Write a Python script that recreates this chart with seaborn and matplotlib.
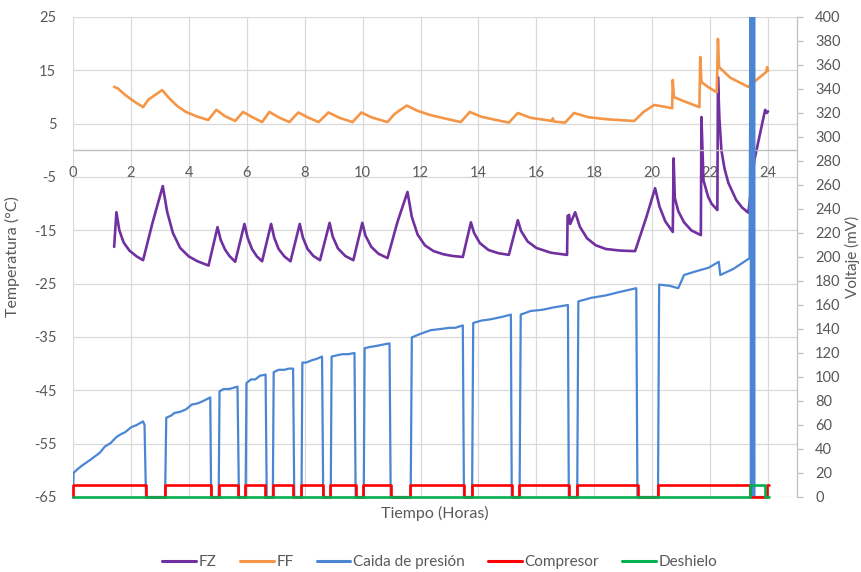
import matplotlib
matplotlib.use("Agg")
import matplotlib.pyplot as plt
import seaborn as sns
from matplotlib.lines import Line2D

# ---------------- data ----------------
fz_t = [1.42, 1.50, 1.60, 1.75, 1.95, 2.20, 2.42, 2.75, 3.10, 3.25, 3.45, 3.70, 4.00, 4.30, 4.68,
        4.99, 5.10, 5.25, 5.40, 5.60, 5.92, 6.03, 6.18, 6.35, 6.53, 6.84, 6.95, 7.10, 7.30, 7.51,
        7.83, 7.94, 8.10, 8.30, 8.53, 8.86, 8.97, 9.15, 9.40, 9.68, 9.99, 10.10, 10.30, 10.55, 10.86,
        11.20, 11.55, 11.70, 11.90, 12.15, 12.45, 12.80, 13.10, 13.46,
        13.74, 13.85, 14.05, 14.35, 14.70, 15.05, 15.36, 15.47, 15.70, 16.00, 16.50, 17.06,
        17.08, 17.13, 17.17, 17.34, 17.50, 17.75, 18.05, 18.40, 18.90, 19.41,
        19.80, 20.10, 20.25, 20.45, 20.71, 20.74, 20.78, 20.90, 21.10, 21.35, 21.68,
        21.70, 21.77, 21.93, 22.05, 22.25, 22.27, 22.32, 22.39, 22.50, 22.63, 22.90, 23.10, 23.32,
        23.53, 23.90, 23.95, 24.00]
fz_v = [-18.1, -11.6, -15.0, -17.3, -18.8, -19.9, -20.6, -13.5, -6.7, -11.5, -15.5, -18.3, -19.9, -20.8, -21.6,
        -14.4, -16.8, -18.6, -19.8, -20.9, -13.8, -16.4, -18.5, -19.9, -20.8, -13.8, -16.4, -18.5, -19.9, -20.8,
        -13.8, -16.4, -18.5, -19.8, -20.6, -13.6, -16.2, -18.4, -19.8, -20.6, -13.6, -16.0, -18.1, -19.4, -20.2,
        -13.5, -7.8, -12.5, -15.8, -17.8, -18.9, -19.5, -19.8, -20.0,
        -13.5, -15.5, -17.4, -18.7, -19.3, -19.6, -13.1, -15.1, -17.1, -18.3, -19.2, -19.6,
        -12.3, -12.1, -13.8, -11.6, -14.3, -16.5, -17.8, -18.5, -18.8, -18.9,
        -12.5, -7.1, -10.5, -13.3, -15.3, -1.5, -8.9, -11.4, -13.5, -15.0, -15.9,
        6.25, -5.6, -8.7, -10.0, -11.2, 13.75, 6.0, 0.0, -3.5, -6.1, -9.3, -10.7, -11.7,
        -1.8, 7.6, 7.0, 7.3]

ff_t = [1.42, 1.55, 1.80, 2.10, 2.42, 2.60, 3.08, 3.30, 3.60, 3.90, 4.30, 4.67, 4.95, 5.25, 5.60,
        5.87, 6.20, 6.53, 6.78, 7.10, 7.47, 7.78, 8.10, 8.48, 8.82, 9.20, 9.65, 9.96, 10.30, 10.86,
        11.10, 11.52, 11.90, 12.35, 12.90, 13.39, 13.70, 14.10, 14.60, 15.05, 15.36, 15.80, 16.30,
        16.55, 16.57, 16.60, 16.99, 17.30, 17.80, 18.50, 19.38, 19.70, 20.07, 20.40, 20.69, 20.71,
        20.75, 21.10, 21.63, 21.66, 21.70, 21.95, 22.23, 22.27, 22.31, 22.70, 23.32, 23.60, 23.94,
        23.97, 24.00]
ff_v = [11.9, 11.6, 10.4, 9.2, 8.1, 9.5, 11.3, 9.9, 8.3, 7.2, 6.3, 5.7, 7.6, 6.4, 5.5,
        7.2, 6.2, 5.3, 7.2, 6.2, 5.3, 7.1, 6.2, 5.3, 7.1, 6.1, 5.3, 7.1, 6.2, 5.3,
        6.8, 8.4, 7.4, 6.6, 5.9, 5.3, 7.2, 6.3, 5.7, 5.2, 7.0, 6.1, 5.7,
        5.5, 6.0, 5.4, 5.2, 7.0, 6.2, 5.8, 5.5, 7.2, 8.5, 8.2, 7.9, 13.2,
        10.0, 9.2, 8.1, 17.5, 12.8, 11.8, 10.9, 20.9, 15.6, 13.6, 11.9, 13.2, 14.7,
        15.6, 14.9]

cp_t = [0.00, 0.02, 0.10, 0.30, 0.60, 0.93, 1.10, 1.30, 1.50, 1.63, 1.80, 2.00, 2.20, 2.42, 2.47, 2.52,
        3.18, 3.22, 3.40, 3.50, 3.70, 3.90, 4.10, 4.30, 4.50, 4.74, 4.77,
        5.03, 5.06, 5.20, 5.40, 5.68, 5.73,
        5.96, 5.99, 6.15, 6.30, 6.45, 6.65, 6.69,
        6.90, 6.93, 7.10, 7.30, 7.45, 7.60, 7.64,
        7.89, 7.92, 8.05, 8.25, 8.40, 8.60, 8.64,
        8.90, 8.93, 9.10, 9.30, 9.50, 9.72, 9.76,
        10.04, 10.07, 10.25, 10.50, 10.70, 10.93, 10.97,
        11.66, 11.70, 12.00, 12.35, 12.70, 13.00, 13.20, 13.46, 13.50,
        13.78, 13.82, 14.10, 14.40, 14.80, 15.12, 15.15,
        15.42, 15.46, 15.80, 16.20, 16.60, 17.09, 17.12,
        17.41, 17.45, 17.90, 18.40, 18.90, 19.45, 19.49,
        20.20, 20.24, 20.60, 20.90, 21.10, 21.50, 21.94, 22.30, 22.35, 22.80, 23.36,
        23.40, 23.41, 23.42, 23.43, 23.44, 23.45, 23.46, 23.47, 23.48, 23.49,
        23.50, 23.51, 23.52, 23.53, 24.00]
cp_v = [0, 20, 22, 26, 31, 37, 42, 45, 50, 52, 54, 58, 60, 63, 60, 0,
        0, 66, 68, 70, 71, 73, 77, 78, 80, 83, 0,
        0, 88, 90, 90, 92, 0,
        0, 95, 98, 98, 101, 102, 0,
        0, 104, 106, 106, 107, 107, 0,
        0, 112, 112, 114, 115, 117, 0,
        0, 117, 118, 119, 119, 120, 0,
        0, 124, 125, 126, 127, 128, 0,
        0, 133, 136, 139, 140, 141, 141, 143, 0,
        0, 145, 147, 148, 150, 152, 0,
        0, 152, 155, 156, 158, 160, 0,
        0, 163, 166, 168, 171, 174, 0,
        0, 177, 176, 174, 185, 188, 191, 196, 185, 190, 199,
        430, 0, 430, 0, 430, 0, 430, 0, 430, 0,
        430, 0, 430, 0, 0]

comp_t = [0.00, 0.00, 2.52, 3.18, 4.77, 5.03, 5.71, 5.95, 6.64, 6.89, 7.61, 7.89, 8.62, 8.89,
          9.76, 10.03, 10.97, 11.64, 13.50, 13.77, 15.16, 15.40, 17.13, 17.41, 19.52, 20.20,
          23.39, 23.97, 24.03]
comp_v = [0, 10, 0, 10, 0, 10, 0, 10, 0, 10, 0, 10, 0, 10,
          0, 10, 0, 10, 0, 10, 0, 10, 0, 10, 0, 10,
          0, 10, 10]

desh_t = [0.00, 23.39, 23.88, 24.03]
desh_v = [0, 10, 0, 0]

x_ticks = list(range(0, 25, 2))
y_left_ticks = list(range(-65, 26, 10))
y_right_ticks = list(range(0, 401, 20))

# ---------------- style ----------------
sns.set_theme(style="whitegrid")
plt.rcParams['font.family'] = ['Lato', 'DejaVu Sans']

C_FZ = "#7030A0"
C_FF = "#F59646"
C_CP = "#4A86D4"
C_CO = "#FF0000"
C_DE = "#00B050"
TXT = "#595959"
GRID = "#D9D9D9"

fig = plt.figure(figsize=(8.62, 5.72), dpi=100)
ax = fig.add_axes([73/862, 1-497/572, (797-73)/862, (497-17)/572])
ax2 = ax.twinx()

sns.lineplot(x=fz_t, y=fz_v, ax=ax, color=C_FZ, lw=1.9, estimator=None, sort=False, label="FZ")
sns.lineplot(x=ff_t, y=ff_v, ax=ax, color=C_FF, lw=1.9, estimator=None, sort=False, label="FF")
sns.lineplot(x=cp_t, y=cp_v, ax=ax2, color=C_CP, lw=1.6, estimator=None, sort=False,
             label="Caida de presión")
sns.lineplot(x=comp_t, y=comp_v, ax=ax2, color=C_CO, lw=1.9, estimator=None, sort=False,
             drawstyle="steps-post", label="Compresor", clip_on=False)
sns.lineplot(x=desh_t, y=desh_v, ax=ax2, color=C_DE, lw=1.9, estimator=None, sort=False,
             drawstyle="steps-post", label="Deshielo", clip_on=False)

for a in (ax, ax2):
    lg = a.get_legend()
    if lg is not None:
        lg.remove()

ax.set_xlim(0, 25)
ax.set_ylim(-65, 25)
ax2.set_ylim(0, 400)
ax.set_xticks(x_ticks)
ax.set_yticks(y_left_ticks)
ax2.set_yticks(y_right_ticks)
ax.set_xticklabels([str(v) for v in x_ticks])
ax.set_yticklabels([str(v) for v in y_left_ticks])
ax2.set_yticklabels([str(v) for v in y_right_ticks])

ax.grid(True, color=GRID, lw=0.9)
ax2.grid(False)
ax.set_axisbelow(True)

for s in ("left", "top", "right"):
    ax.spines[s].set_visible(False)
ax.spines["bottom"].set_position(("data", 0))
ax.spines["bottom"].set_color("#BFBFBF")
ax.spines["bottom"].set_linewidth(1.0)
for s in ("left", "top", "bottom"):
    ax2.spines[s].set_visible(False)
ax2.spines["right"].set_visible(True)
ax2.spines["right"].set_color("#BFBFBF")
ax2.spines["right"].set_linewidth(0.9)

ax.tick_params(axis="x", length=0, pad=11, labelsize=10.5, colors=TXT)
ax.tick_params(axis="y", length=0, pad=12, labelsize=10.5, colors=TXT)
ax2.tick_params(axis="y", right=True, length=4, width=0.9, color="#BFBFBF",
                pad=9, labelsize=10.5, labelcolor=TXT)

ax.set_ylabel("Temperatura (°C)", fontsize=11.5, color=TXT)
ax2.set_ylabel("Voltaje (mV)", fontsize=11, color=TXT, rotation=90)
ax.yaxis.set_label_coords((20-73)/724, 0.5)
ax2.yaxis.set_label_coords((845-73)/724, 0.5)
ax.set_xlabel("")
fig.text(435/862, 1-513/572, "Tiempo (Horas)", ha="center", va="center", fontsize=11.5, color=TXT)

handles = [h for h in ax.get_lines() if h.get_label() in ("FZ", "FF")] + \
          [h for h in ax2.get_lines() if h.get_label() in ("Caida de presión", "Compresor", "Deshielo")]
leg_handles = [Line2D([], [], color=h.get_color(), lw=2.2) for h in handles]
leg_labels = [h.get_label() for h in handles]
leg = fig.legend(leg_handles, leg_labels, loc="center", bbox_to_anchor=(440/862, 1-562/572),
                 ncol=5, frameon=False, fontsize=11, handlelength=2.2, handletextpad=0.2,
                 columnspacing=1.5)
for t in leg.get_texts():
    t.set_color(TXT)

fig.savefig("out.png", dpi=100)
